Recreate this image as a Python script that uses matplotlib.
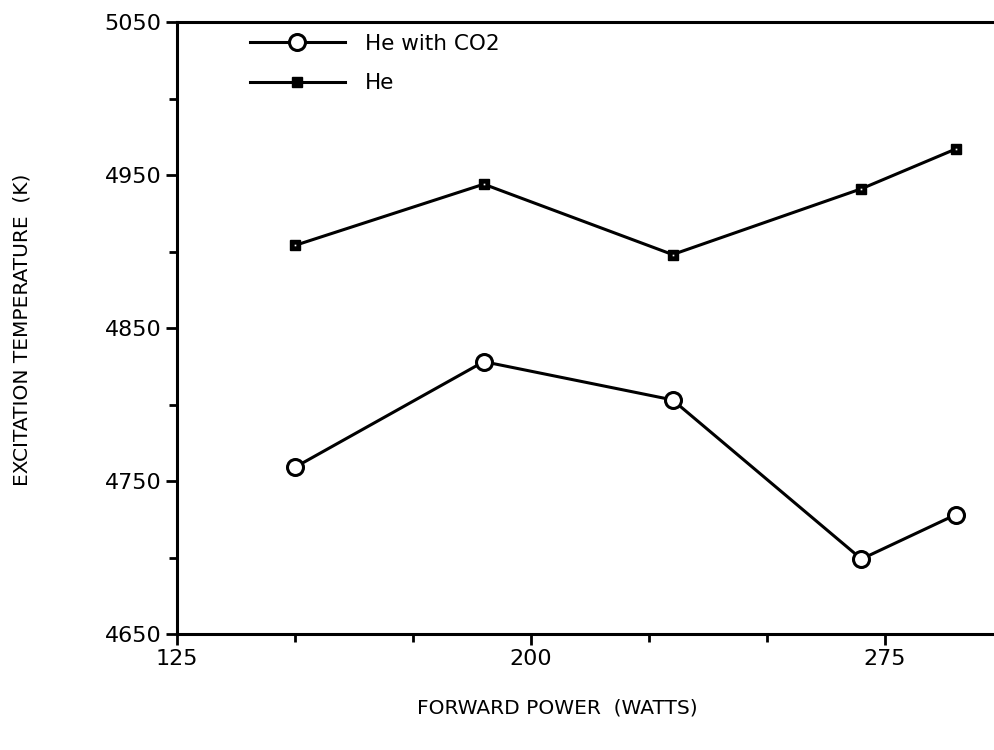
import matplotlib
matplotlib.use("Agg")
import matplotlib.pyplot as plt

# forward power (W) and excitation temperature (K)
power = [150, 190, 230, 270, 290]
temp_he_co2 = [4759, 4828, 4803, 4699, 4728]
temp_he = [4904, 4944, 4898, 4941, 4967]

x_major = [125, 200, 275]
x_minor = [150, 175, 225, 250]
y_major = [4650, 4750, 4850, 4950, 5050]
y_minor = [4700, 4800, 4900, 5000]

plt.rcParams["font.family"] = ["DejaVu Sans"]

fig = plt.figure(figsize=(9.94, 7.5), dpi=100)
ax = fig.add_axes([177 / 994, 116 / 750, 826 / 994, 612 / 750])

ax.plot(power, temp_he_co2, color="black", lw=2.2, marker="o", ms=11.5,
        mfc="white", mec="black", mew=2.2, label="He with CO2", zorder=3)
ax.plot(power, temp_he, color="black", lw=2.2, marker="s", ms=7.5,
        mfc="black", mec="black", label="He", zorder=3)
ax.plot(power, temp_he, ls="none", marker="s", ms=1.2, mfc="white",
        mec="white", mew=0, zorder=4)

ax.set_xlim(125, 300)
ax.set_ylim(4650, 5050)
ax.set_xticks(x_major)
ax.set_xticks(x_minor, minor=True)
ax.set_yticks(y_major)
ax.set_yticks(y_minor, minor=True)

for side in ["left", "bottom", "top"]:
    ax.spines[side].set_linewidth(2.2)
ax.spines["right"].set_visible(False)

ax.tick_params(which="major", direction="out", length=8, width=2,
               labelsize=16, pad=3)
ax.tick_params(which="minor", direction="out", length=6, width=2)
ax.tick_params(axis="x", which="both", top=False)

fig.text(557 / 994, 42 / 750, "FORWARD POWER  (WATTS)", ha="center",
         va="center", fontsize=14.5)
fig.text(22 / 994, 1 - 330 / 750, "EXCITATION TEMPERATURE  (K)", ha="center",
         va="center", rotation=90, fontsize=14.5)

ax.legend(loc="upper left", bbox_to_anchor=(0.065, 1.012), frameon=False,
          fontsize=15.5, handlelength=4.4, handletextpad=0.95, labelspacing=0.9)

fig.savefig("out.png", dpi=100)
